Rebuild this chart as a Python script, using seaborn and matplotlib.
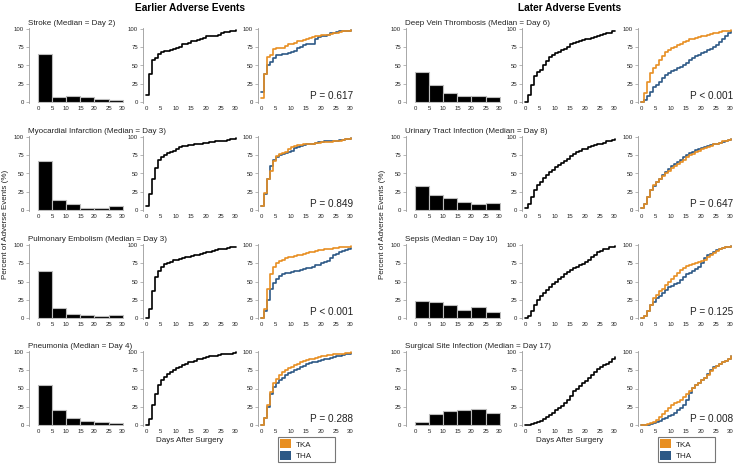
import numpy as np
import pandas as pd
import matplotlib
matplotlib.use("Agg")
import matplotlib.pyplot as plt
import seaborn as sns
from matplotlib.patches import Patch

# ---------------- data ----------------
days = list(range(31))
bin_edges = [0, 5, 10, 15, 20, 25, 30]
bin_centers = [2.5, 7.5, 12.5, 17.5, 22.5, 27.5]
x_ticks = [0, 5, 10, 15, 20, 25, 30]
y_ticks = [0, 25, 50, 75, 100]

event_names = ["Stroke", "Myocardial Infarction", "Pulmonary Embolism", "Pneumonia",
               "Deep Vein Thrombosis", "Urinary Tract Infection", "Sepsis", "Surgical Site Infection"]
median_days = [2, 3, 3, 4, 6, 8, 10, 17]
p_labels = ["P = 0.617", "P = 0.849", "P < 0.001", "P = 0.288",
            "P < 0.001", "P = 0.647", "P = 0.125", "P = 0.008"]
group_titles = ["Earlier Adverse Events", "Later Adverse Events"]
legend_labels = ["TKA", "THA"]

stroke_hist = [66, 7, 8, 7, 4, 3]
stroke_all = [10, 38, 57, 60, 66, 69, 70, 70, 71, 72, 74, 76, 79, 80, 81, 83, 84, 85, 86, 88, 90, 91, 91, 91, 92, 94, 96, 96, 97, 98, 99]
stroke_tka = [5, 38, 62, 64, 72, 74, 74, 74, 77, 79, 80, 81, 83, 84, 85, 87, 88, 89, 90, 91, 92, 92, 92, 93, 94, 95, 96, 97, 98, 98, 99]
stroke_tha = [13, 38, 51, 55, 60, 64, 65, 66, 66, 67, 69, 70, 74, 76, 78, 79, 79, 80, 86, 89, 90, 91, 92, 94, 95, 96, 97, 97, 98, 98, 99]

mi_hist = [67, 14, 8, 3, 2, 5]
mi_all = [5, 22, 42, 57, 68, 73, 76, 78, 79, 81, 84, 87, 88, 88, 89, 89, 90, 90, 91, 92, 92, 93, 93, 94, 94, 94, 95, 96, 97, 98, 99]
mi_tka = [6, 23, 42, 54, 67, 74, 77, 78, 80, 83, 86, 88, 89, 89, 90, 90, 91, 91, 92, 92, 93, 93, 93, 93, 94, 95, 95, 96, 97, 98, 99]
mi_tha = [6, 22, 42, 60, 69, 73, 76, 77, 78, 79, 81, 85, 87, 88, 89, 90, 90, 91, 92, 93, 93, 94, 94, 95, 95, 95, 96, 96, 97, 98, 99]

pe_hist = [65, 13, 5, 4, 3, 4]
pe_all = [0, 12, 37, 56, 65, 70, 74, 76, 77, 79, 80, 81, 82, 83, 84, 85, 86, 87, 88, 89, 90, 91, 92, 93, 94, 94, 95, 96, 97, 98, 98]
pe_tka = [0, 12, 40, 60, 70, 75, 78, 80, 82, 83, 84, 85, 86, 87, 88, 89, 90, 91, 92, 93, 93, 94, 95, 95, 96, 96, 97, 97, 98, 98, 99]
pe_tha = [0, 10, 25, 40, 48, 53, 58, 60, 61, 62, 63, 64, 65, 66, 67, 68, 69, 70, 72, 73, 75, 77, 78, 82, 86, 88, 90, 92, 93, 94, 96]

pna_hist = [55, 20, 10, 6, 4, 3]
pna_all = [0, 8, 27, 43, 55, 61, 66, 70, 73, 76, 78, 80, 82, 84, 86, 87, 88, 90, 91, 92, 93, 94, 94, 95, 96, 97, 97, 98, 98, 99, 100]
pna_tka = [0, 10, 28, 45, 57, 63, 68, 73, 76, 78, 80, 82, 84, 86, 88, 89, 90, 91, 92, 93, 94, 95, 96, 96, 97, 97, 98, 98, 99, 99, 100]
pna_tha = [0, 10, 25, 42, 52, 58, 62, 65, 68, 71, 73, 75, 77, 79, 81, 83, 85, 86, 87, 88, 89, 90, 91, 92, 93, 94, 95, 96, 97, 98, 99]

dvt_hist = [41, 23, 12, 8, 8, 7]
dvt_all = [0, 9, 23, 35, 41, 44, 50, 56, 62, 65, 67, 69, 71, 73, 76, 79, 81, 82, 83, 85, 86, 87, 88, 89, 90, 92, 93, 94, 95, 97, 98]
dvt_tka = [0, 12, 28, 40, 47, 51, 57, 63, 68, 71, 74, 76, 78, 80, 82, 84, 86, 87, 88, 89, 90, 91, 92, 93, 94, 95, 96, 97, 97, 98, 99]
dvt_tha = [0, 2, 8, 14, 20, 23, 28, 33, 37, 40, 42, 44, 46, 48, 51, 54, 57, 60, 63, 65, 67, 69, 71, 73, 75, 78, 82, 86, 90, 94, 97]

uti_hist = [33, 21, 16, 11, 8, 9]
uti_all = [3, 8, 18, 27, 34, 38, 44, 48, 52, 55, 59, 62, 65, 67, 70, 74, 77, 79, 81, 83, 84, 86, 88, 89, 90, 91, 92, 94, 95, 96, 97]
uti_tka = [3, 8, 18, 28, 34, 38, 42, 46, 50, 53, 57, 60, 63, 66, 69, 72, 75, 77, 79, 81, 83, 85, 87, 88, 90, 91, 92, 94, 95, 96, 98]
uti_tha = [2, 8, 18, 27, 33, 38, 43, 48, 52, 56, 60, 63, 66, 69, 72, 75, 78, 80, 82, 84, 85, 86, 88, 89, 90, 91, 92, 93, 95, 96, 97]

sepsis_hist = [23, 22, 18, 11, 15, 8]
sepsis_all = [0, 2, 10, 18, 25, 30, 34, 38, 42, 46, 50, 53, 56, 60, 63, 66, 68, 70, 72, 74, 77, 80, 84, 87, 90, 92, 94, 95, 97, 98, 99]
sepsis_tka = [0, 3, 9, 18, 28, 32, 37, 40, 45, 50, 54, 58, 62, 66, 69, 71, 73, 74, 76, 77, 78, 80, 83, 86, 89, 92, 94, 96, 97, 98, 99]
sepsis_tha = [0, 3, 9, 18, 22, 27, 30, 34, 38, 42, 44, 46, 48, 52, 56, 60, 62, 65, 67, 70, 75, 82, 86, 88, 91, 93, 95, 96, 97, 98, 99]

ssi_hist = [4, 15, 19, 21, 22, 17]
ssi_all = [0, 0, 1, 2, 4, 5, 8, 11, 14, 17, 20, 23, 26, 30, 34, 40, 46, 50, 54, 57, 60, 64, 68, 73, 77, 80, 82, 84, 87, 90, 93]
ssi_tka = [0, 0, 1, 2, 4, 7, 11, 15, 19, 23, 27, 30, 32, 34, 38, 42, 47, 51, 55, 58, 61, 65, 69, 74, 78, 81, 83, 86, 88, 91, 94]
ssi_tha = [0, 0, 0, 1, 3, 4, 6, 8, 10, 12, 14, 17, 20, 23, 28, 34, 44, 51, 55, 58, 61, 65, 70, 75, 79, 81, 84, 86, 88, 91, 95]

hists = [stroke_hist, mi_hist, pe_hist, pna_hist, dvt_hist, uti_hist, sepsis_hist, ssi_hist]
alls = [stroke_all, mi_all, pe_all, pna_all, dvt_all, uti_all, sepsis_all, ssi_all]
tkas = [stroke_tka, mi_tka, pe_tka, pna_tka, dvt_tka, uti_tka, sepsis_tka, ssi_tka]
thas = [stroke_tha, mi_tha, pe_tha, pna_tha, dvt_tha, uti_tha, sepsis_tha, ssi_tha]

# ---------------- style ----------------
sns.set_theme(style="ticks")
plt.rcParams["font.family"] = ["Liberation Sans", "DejaVu Sans"]

ORANGE = "#E88F22"
BLUE = "#2D5986"
SPINE = "#9A9A9A"
TXT = "#222222"

W, H = 735, 468
fig = plt.figure(figsize=(W / 100, H / 100), dpi=100)


def add_ax(left, top, w, h):
    return fig.add_axes([left / W, 1 - (top + h) / H, w / W, h / H])


col_lefts = [[29, 143, 258], [406, 522, 638]]
col_widths = [95, 94, 94]
row_tops = [28, 136, 244, 351]
row_h = 75


def style_ax(ax, xlim):
    ax.set_xlim(*xlim)
    ax.set_ylim(-1.5, 101.5)
    ax.set_xticks(x_ticks)
    ax.set_yticks(y_ticks)
    ax.set_xlabel("")
    ax.set_ylabel("")
    sns.despine(ax=ax, bottom=True)
    ax.spines["left"].set_color(SPINE)
    ax.spines["left"].set_linewidth(0.6)
    ax.tick_params(axis="both", labelsize=4.3, colors=TXT, pad=1.5)
    ax.tick_params(axis="y", length=2, width=0.5, color=SPINE)
    ax.tick_params(axis="x", length=0, pad=2.5)
    ax.set_facecolor("white")


for i in range(8):
    g = i // 4
    r = i % 4
    top = row_tops[r]
    lefts = col_lefts[g]

    # histogram
    ax1 = add_ax(lefts[0], top, col_widths[0], row_h)
    sns.histplot(x=bin_centers, weights=hists[i], bins=bin_edges, ax=ax1,
                 color="black", edgecolor="#BDBDBD", linewidth=0.8, alpha=1)
    style_ax(ax1, (-3.3, 30.5))

    # overall CDF
    ax2 = add_ax(lefts[1], top, col_widths[1], row_h)
    sns.lineplot(x=days, y=alls[i], ax=ax2, color="black", lw=1.2,
                 drawstyle="steps-post", estimator=None)
    style_ax(ax2, (-1.0, 30.5))

    # TKA vs THA
    ax3 = add_ax(lefts[2], top, col_widths[2], row_h)
    sns.lineplot(x=days, y=thas[i], ax=ax3, color=BLUE, lw=1.2,
                 drawstyle="steps-post", estimator=None)
    sns.lineplot(x=days, y=tkas[i], ax=ax3, color=ORANGE, lw=1.2,
                 drawstyle="steps-post", estimator=None)
    style_ax(ax3, (-1.0, 30.5))
    ax3.text(1.01, 0.05, p_labels[i], transform=ax3.transAxes, ha="right",
             va="baseline", fontsize=7.2, color=TXT)

    # panel title
    fig.text((lefts[0] - 1) / W, 1 - (top - 3) / H,
             f"{event_names[i]} (Median = Day {median_days[i]})",
             ha="left", va="baseline", fontsize=5.8, color=TXT)

# group titles
fig.text(190 / W, 1 - 11 / H, group_titles[0], ha="center", va="baseline",
         fontsize=7.3, fontweight="bold", color="black")
fig.text(570 / W, 1 - 11 / H, group_titles[1], ha="center", va="baseline",
         fontsize=7.3, fontweight="bold", color="black")

# axis labels
for xl in [6, 383]:
    fig.text(xl / W, 1 - 224 / H, "Percent of Adverse Events (%)", rotation=90,
             ha="center", va="center", fontsize=5.8, color=TXT)
for xc in [190, 570]:
    fig.text(xc / W, 1 - 441 / H, "Days After Surgery", ha="center",
             va="center", fontsize=5.8, color=TXT)

# legends
handles = [Patch(facecolor=ORANGE, edgecolor="none"), Patch(facecolor=BLUE, edgecolor="none")]
for lx in [278, 658]:
    leg = fig.legend(handles, legend_labels, loc="upper left",
                     bbox_to_anchor=(lx / W, 1 - 466 / H, 57 / W, 29 / H),
                     mode="expand", fontsize=5.8,
                     frameon=True, fancybox=False, handlelength=1.35,
                     handleheight=1.35, handletextpad=0.55, borderpad=0.3,
                     labelspacing=0.25, borderaxespad=0)
    leg.get_frame().set_edgecolor("#555555")
    leg.get_frame().set_linewidth(0.8)

fig.savefig("out.png", dpi=100, facecolor="white")
